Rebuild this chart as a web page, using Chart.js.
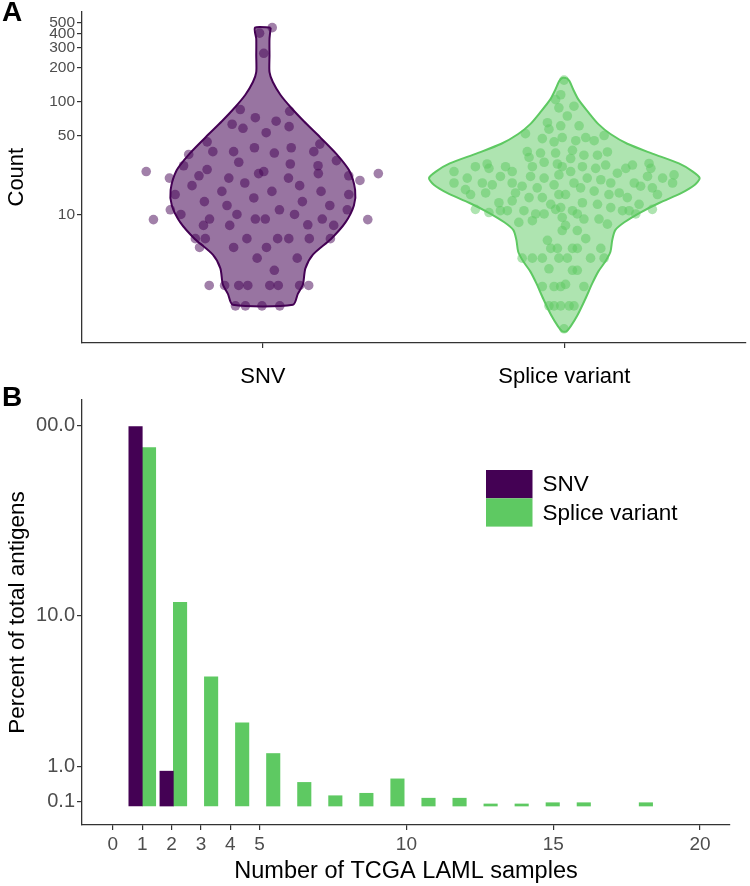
<!DOCTYPE html>
<html>
<head>
<meta charset="utf-8">
<script src="https://cdn.jsdelivr.net/npm/chart.js@4.4.1/dist/chart.umd.min.js"></script>
<style>
html, body { margin: 0; padding: 0; background: #fff; }
#wrap { position: relative; width: 750px; height: 886px; overflow: hidden; background: #fff;
        font-family: "Liberation Sans", Arial, sans-serif; }
canvas { position: absolute; left: 0; }
#cA { top: 0; }
#cB { top: 380px; }
.tag { position: absolute; font-weight: bold; font-size: 28px; line-height: 1; color: #000; }
</style>
</head>
<body>
<div id="wrap">
  <canvas id="cA" width="750" height="395"></canvas>
  <canvas id="cB" width="750" height="506"></canvas>
  <div class="tag" style="left:2px;top:-2px">A</div>
  <div class="tag" style="left:2px;top:383px">B</div>
</div>
<script>
// ---------------- Panel A data ----------------
const violinCategories = ['SNV', 'Splice variant'];
const countTicks = [10, 50, 100, 200, 300, 400, 500];

// jittered points: horizontal offset from category position, count value
const snvJitter = [-0.011, 0.031, 0.003, -0.075, 0.089, -0.025, 0.044, -0.102, -0.066, 0.087, 0.011,
  -0.185, -0.246, -0.166, -0.097, -0.028, 0.038, 0.094, 0.169, 0.189,
  -0.263, -0.080, 0.091, 0.244, 0.183, -0.185, -0.212, -0.014, 0.003, 0.184, -0.310, -0.113, 0.085, 0.285, 0.322,
  -0.387, 0.383, -0.363, 0.348,
  -0.235, -0.060, 0.122, -0.291, -0.136, 0.030, 0.193, 0.285, -0.030,
  -0.194, -0.119, 0.131, 0.222, -0.307, 0.055, -0.272, -0.086, 0.105, 0.280,
  -0.177, -0.025, 0.008, 0.197, -0.197, -0.110, 0.149, 0.235,
  -0.224, -0.191, -0.053, 0.049, 0.086, 0.154, 0.224, -0.210, -0.097, 0.012,
  -0.019, 0.114, 0.038,
  -0.178, -0.127, -0.080, -0.050, 0.023, 0.051, 0.122, 0.152,
  -0.091, -0.058, -0.003, 0.056];
const snvCounts = [404, 452, 268, 85, 82, 72, 67, 63, 58, 60, 53,
  44, 34, 36, 36, 39, 35, 39, 36, 42,
  27, 29, 28, 30, 27, 25, 22, 23, 24, 23, 21, 21, 21, 22, 20,
  24, 23, 9, 9,
  18, 19, 18, 15, 16, 16, 16, 15, 14,
  13, 12, 13, 12, 11, 11, 10, 10, 10, 11,
  9.1, 9.1, 9.1, 9.1, 8, 8, 8.1, 8,
  6.1, 6.1, 6.1, 6.1, 6.1, 6.1, 6.1, 5.1, 5.1, 5.1,
  4.1, 4.1, 3.2,
  2.35, 2.35, 2.35, 2.35, 2.35, 2.35, 2.35, 2.35,
  1.55, 1.55, 1.55, 1.55];

const spliceJitter = [-0.029, -0.018, -0.056, -0.051, -0.012, -0.129, -0.073, -0.034, -0.007,
  -0.123, -0.079, -0.029, -0.117, -0.067, -0.023, -0.106, -0.007,
  -0.366, -0.295, -0.256, -0.250, -0.195, -0.173, -0.212, -0.112, -0.067, -0.018,
  -0.366, -0.322, -0.272, -0.239, -0.173, -0.140, -0.090, -0.034,
  -0.328, -0.311, -0.261, -0.162, -0.117, -0.073, -0.018, 0.004,
  -0.217, -0.173, -0.045, -0.295, -0.250, -0.212, -0.189, -0.134, -0.095, -0.067, -0.029,
  -0.151, -0.106, -0.007, -0.007, -0.056, -0.045, -0.023,
  -0.140, -0.106, -0.073, -0.018, -0.051, -0.073, -0.034, -0.012, -0.051, -0.034, -0.001,
  -0.001, -0.012, 0.032, 0.010, 0.049, 0.038, 0.071, 0.099, 0.132,
  0.027, 0.065, 0.110, 0.143, 0.021, 0.060, 0.104, 0.137, 0.176, 0.204, 0.226,
  0.281, 0.287, 0.276, 0.326, 0.359, 0.364, 0.021, 0.032, 0.076, 0.121, 0.154,
  0.232, 0.253, 0.292, 0.309, 0.054, 0.099, 0.148, 0.182, 0.209,
  0.060, 0.110, 0.154, 0.248, 0.193, 0.215, 0.237, 0.292,
  -0.012, 0.027, 0.043, 0.065, 0.115, 0.143, 0.004, 0.043, 0.071,
  0.027, 0.043, 0.121, 0.010, 0.087, 0.132, 0.027, 0.043, 0.004, 0.065,
  -0.012, 0.016, 0.032];
const spliceCounts = [104, 88, 65, 57, 61, 52, 47, 44, 48,
  36, 35, 35, 32, 29, 28, 26.5, 26.5,
  24, 26.5, 28, 25.6, 26.5, 24, 21.7, 21.7, 21, 22.4,
  19, 21, 19, 18.3, 19, 17.8, 17.2, 18.3,
  16.6, 15, 15.5, 15.5, 14.1, 14.1, 15, 15,
  12.7, 13.2, 12.3, 11.1, 10.4, 10.8, 10.8, 10.8, 10.1, 10.1, 11.1,
  8.5, 8.8, 9.4, 7.2, 5.9, 5.0, 5.0,
  4.1, 4.1, 4.1, 4.1, 3.3, 2.3, 2.3, 2.3, 1.55, 1.55, 0.97,
  155, 115, 91, 74.5, 61, 45, 48, 45, 50,
  37, 33.5, 33.5, 35.8, 31.3, 26.5, 25.6, 27.4, 23.2, 25.6, 27.4,
  28.3, 25.6, 21.7, 21, 19, 22.4, 24, 19, 21, 20.3, 19,
  19, 17.8, 17.2, 15, 17.2, 16.1, 15, 15.5, 14.1,
  12.7, 12.3, 11.5, 12.3, 10.8, 10.8, 10.1, 11.1,
  11.5, 10.8, 10.1, 9.1, 9.1, 8.2, 8.0, 7.2, 6.1,
  5.0, 5.0, 5.0, 4.1, 4.1, 4.1, 3.2, 3.2, 2.4, 2.3,
  1.55, 1.55, 1.55];

// violin outlines: count level (top to bottom) and half-width of the density at that level
const snvViolinCounts = [452, 360, 256, 182, 149, 115, 88.7, 67, 48.6, 34.6, 24.6, 16.5, 12.0, 8.5, 6.07, 4.40, 3.33, 2.41, 1.98, 1.585];
const snvViolinWidth  = [0.026, 0.022, 0.022, 0.022, 0.033, 0.058, 0.093, 0.136, 0.189, 0.243, 0.286, 0.306, 0.302, 0.274, 0.226, 0.166, 0.141, 0.133, 0.116, 0.100];
const spliceViolinCounts = [161.8, 152.3, 127.2, 104.0, 80.2, 63.1, 51.6, 42.3, 34.6, 28.3, 24.1, 21.0, 18.2, 15.5, 12.7, 10.4, 8.52, 7.26, 5.94, 4.67, 3.83, 3.13, 2.46, 1.79, 1.27, 1.04, 0.923];
const spliceViolinWidth  = [0.007, 0.017, 0.030, 0.047, 0.080, 0.113, 0.153, 0.209, 0.292, 0.380, 0.425, 0.449, 0.432, 0.389, 0.316, 0.252, 0.199, 0.169, 0.159, 0.153, 0.136, 0.113, 0.093, 0.070, 0.043, 0.023, 0.007];

// ---------------- Panel B data ----------------
const seriesNames = ['SNV', 'Splice variant'];
const sampleTicks = [0, 1, 2, 3, 4, 5, 10, 15, 20];
const percentTicks = [0.1, 1, 10, 100];
const percentTickLabels = ['0.1', '1.0', '10.0', '00.0'];
const snvSamples = [1, 2];
const snvPercent = [99.3, 0.87];
const spliceSamples = [1, 2, 3, 4, 5, 6, 7, 8, 9, 10, 11, 12, 13, 14, 15, 17];
const splicePercent = [76.9, 11.7, 4.57, 2.38, 1.36, 0.58, 0.25, 0.31, 0.67, 0.19, 0.19, 0.05, 0.05, 0.08, 0.08, 0.08];

// ---------------- styling ----------------
const FONT = '"Liberation Sans", Arial, sans-serif';
const TICK_GREY = '#4d4d4d';
const AXIS = '#333333';
const PURPLE = '#440154';
const GREEN = '#5ec962';

// pseudo-log axis (asinh) used for panel B
const PSEUDO_DIV = 2;
class PseudoLogScale extends Chart.LinearScale {
  configure() {
    super.configure();
    this._tStart = Math.asinh(this.min / PSEUDO_DIV);
    this._tRange = Math.asinh(this.max / PSEUDO_DIV) - this._tStart;
  }
  getPixelForValue(value) {
    if (value === null || value === undefined || isNaN(value)) return NaN;
    return this.getPixelForDecimal((Math.asinh(value / PSEUDO_DIV) - this._tStart) / this._tRange);
  }
  getValueForPixel(pixel) {
    return PSEUDO_DIV * Math.sinh(this._tStart + this.getDecimalForPixel(pixel) * this._tRange);
  }
}
PseudoLogScale.id = 'pseudolog';
PseudoLogScale.defaults = Chart.LinearScale.defaults;
Chart.register(PseudoLogScale);

function violinPath(pos, counts, widths) {
  const right = counts.map((c, i) => ({ x: pos + widths[i], y: c }));
  const left = counts.map((c, i) => ({ x: pos - widths[i], y: c })).reverse();
  const pts = right.concat(left);
  pts.push(pts[0]);
  return pts;
}
function jitterPoints(pos, offs, counts) {
  return counts.map((c, i) => ({ x: pos + offs[i], y: c }));
}

const axisGrid = { drawOnChartArea: false, drawTicks: true, tickLength: 5, color: AXIS, lineWidth: 1.2 };
const axisBorder = { display: true, color: AXIS, width: 1.3 };

// ---------------- Panel A chart ----------------
new Chart(document.getElementById('cA'), {
  type: 'scatter',
  data: {
    datasets: [
      { type: 'scatter', data: jitterPoints(1, snvJitter, snvCounts), pointRadius: 4.8,
        backgroundColor: 'rgba(68,1,84,0.5)', borderWidth: 0, order: 0 },
      { type: 'scatter', data: jitterPoints(2, spliceJitter, spliceCounts), pointRadius: 4.8,
        backgroundColor: 'rgba(94,201,98,0.5)', borderWidth: 0, order: 0 },
      { type: 'line', data: violinPath(1, snvViolinCounts, snvViolinWidth), fill: 'shape',
        backgroundColor: 'rgba(68,1,84,0.55)', borderColor: PURPLE, borderWidth: 2,
        pointRadius: 0, tension: 0.25, order: 1 },
      { type: 'line', data: violinPath(2, spliceViolinCounts, spliceViolinWidth), fill: 'shape',
        backgroundColor: 'rgba(94,201,98,0.5)', borderColor: GREEN, borderWidth: 2,
        pointRadius: 0, tension: 0.25, order: 1 }
    ]
  },
  options: {
    responsive: false, animation: false, devicePixelRatio: 1, events: [],
    layout: { padding: { top: 5, right: 4, left: 0, bottom: 0 } },
    plugins: { legend: { display: false }, tooltip: { enabled: false } },
    scales: {
      x: {
        type: 'linear', min: 0.4, max: 2.6, bounds: 'data', offset: false,
        afterBuildTicks: s => { s.ticks = violinCategories.map((_, i) => ({ value: i + 1 })); },
        ticks: { callback: (v, i) => violinCategories[i], autoSkip: false, maxRotation: 0,
                 font: { family: FONT, size: 22 }, color: '#000', padding: 16 },
        grid: axisGrid, border: axisBorder,
        afterFit: s => { s.height = 52; }
      },
      y: {
        type: 'logarithmic', min: 0.726, max: 631, bounds: 'data',
        afterBuildTicks: s => { s.ticks = countTicks.map(v => ({ value: v })); },
        ticks: { callback: (v, i) => String(countTicks[i]), autoSkip: false,
                 font: { family: FONT, size: 15.5 }, color: TICK_GREY, padding: 2 },
        grid: axisGrid, border: axisBorder,
        title: { display: true, text: 'Count', font: { family: FONT, size: 22 }, color: '#000',
                 padding: { top: 4, bottom: 0 } },
        afterFit: s => { s.width = 82; }
      }
    }
  }
});

// ---------------- Panel B chart ----------------
const legendB = {
  id: 'legendB',
  afterDraw(chart, args, opts) {
    const ctx = chart.ctx;
    ctx.save();
    ctx.font = opts.fontSize + 'px ' + FONT;
    ctx.textBaseline = 'middle';
    ctx.textAlign = 'left';
    chart.data.datasets.forEach((d, i) => {
      const y = opts.top + i * opts.rowHeight;
      ctx.fillStyle = d.backgroundColor;
      ctx.fillRect(opts.left, y, opts.boxWidth, opts.rowHeight);
      ctx.fillStyle = '#000';
      ctx.fillText(d.label, opts.left + opts.boxWidth + opts.gap, y + opts.rowHeight / 2 + 1);
    });
    ctx.restore();
  }
};

new Chart(document.getElementById('cB'), {
  type: 'bar',
  data: {
    datasets: [
      { label: seriesNames[0], data: snvSamples.map((s, i) => ({ x: s, y: snvPercent[i] })),
        backgroundColor: PURPLE, borderWidth: 0, xAxisID: 'xb', yAxisID: 'y',
        categoryPercentage: 1, barPercentage: 1 },
      { label: seriesNames[1], data: spliceSamples.map((s, i) => ({ x: s, y: splicePercent[i] })),
        backgroundColor: GREEN, borderWidth: 0, xAxisID: 'xb', yAxisID: 'y',
        categoryPercentage: 1, barPercentage: 1 }
    ]
  },
  options: {
    responsive: false, animation: false, devicePixelRatio: 1, events: [],
    layout: { padding: { top: 20, right: 20, left: 0, bottom: 0 } },
    plugins: {
      legend: { display: false }, tooltip: { enabled: false },
      legendB: { left: 486, top: 90, boxWidth: 46.5, rowHeight: 28.3, gap: 10, fontSize: 22.5 }
    },
    scales: {
      x: {
        type: 'linear', position: 'bottom', min: -1.05, max: 21.02, bounds: 'data', offset: false,
        afterBuildTicks: s => { s.ticks = sampleTicks.map(v => ({ value: v })); },
        ticks: { callback: (v, i) => String(sampleTicks[i]), autoSkip: false, maxRotation: 0,
                 font: { family: FONT, size: 19 }, color: TICK_GREY, padding: 3 },
        grid: Object.assign({}, axisGrid, { offset: false }), border: axisBorder,
        title: { display: true, text: 'Number of TCGA LAML samples', font: { family: FONT, size: 23.5 },
                 color: '#000', padding: { top: 0, bottom: 0 } },
        afterFit: s => { s.height = 61; }
      },
      xb: {
        type: 'linear', position: 'bottom', display: false, min: -0.941, max: 19.925,
        bounds: 'data', offset: false, grid: { offset: false }
      },
      y: {
        type: 'pseudolog', min: -0.464, max: 137, bounds: 'data',
        afterBuildTicks: s => { s.ticks = percentTicks.map(v => ({ value: v })); },
        ticks: { callback: (v, i) => percentTickLabels[i], autoSkip: false,
                 font: { family: FONT, size: 20 }, color: TICK_GREY, padding: 2 },
        grid: axisGrid, border: axisBorder,
        title: { display: true, text: 'Percent of total antigens', font: { family: FONT, size: 22.5 },
                 color: '#000', padding: { top: 4, bottom: 0 } },
        afterFit: s => { s.width = 82; }
      }
    }
  },
  plugins: [legendB]
});
</script>
</body>
</html>
